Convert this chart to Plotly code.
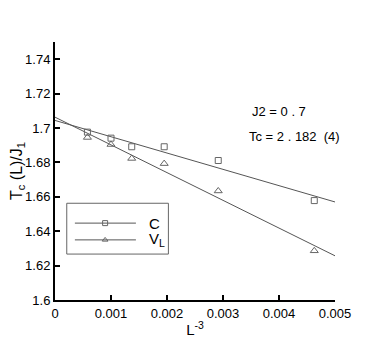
import plotly.graph_objects as go

# data
inv_L3 = [0.000579, 0.001, 0.00137, 0.00195, 0.002915, 0.00463]
tc_C = [1.6976, 1.6941, 1.6891, 1.6891, 1.6811, 1.6578]
tc_V = [1.6945, 1.6904, 1.6823, 1.6793, 1.6634, 1.6286]

fit_x = [0.0, 0.005]
fit_C = [1.7044, 1.6570]
fit_V = [1.7063, 1.6257]

x_ticks = [0, 0.001, 0.002, 0.003, 0.004, 0.005]
y_ticks = [1.6, 1.62, 1.64, 1.66, 1.68, 1.7, 1.72, 1.74]

series_names = ['C', 'V<sub>L</sub>']
series_symbols = ['square-open', 'triangle-up-open']

line_col = '#555555'
mark_col = '#666666'

fig = go.Figure()

# fitted lines
for fy in (fit_C, fit_V):
    fig.add_trace(go.Scatter(x=fit_x, y=fy, mode='lines',
                             line=dict(color=line_col, width=1), showlegend=False))

# data points
fig.add_trace(go.Scatter(x=inv_L3, y=tc_C, mode='markers', showlegend=False,
                         marker=dict(symbol='square-open', size=6, color=mark_col,
                                     line=dict(width=1))))
fig.add_trace(go.Scatter(x=inv_L3, y=tc_V, mode='markers', showlegend=False,
                         marker=dict(symbol='triangle-up-open', size=7, color=mark_col,
                                     line=dict(width=1))))

# hand-drawn legend box (paper coords)
fig.add_shape(type='rect', xref='paper', yref='paper', x0=0.042, x1=0.405,
              y0=0.178, y1=0.375, line=dict(color='#666666', width=1),
              fillcolor='white', layer='below')
leg_y = [0.298, 0.233]
for name, ly in zip(series_names, leg_y):
    fig.add_shape(type='line', xref='paper', yref='paper', x0=0.071, x1=0.289,
                  y0=ly, y1=ly, line=dict(color=line_col, width=1), layer='below')
    fig.add_annotation(x=0.329, y=ly, xref='paper', yref='paper', text=name,
                       showarrow=False, xanchor='left', yanchor='middle',
                       font=dict(size=15))
# legend markers on an overlay axis spanning the plot area
for sym, ly in zip(series_symbols, leg_y):
    fig.add_trace(go.Scatter(x=[0.179], y=[ly], xaxis='x2', yaxis='y2',
                             mode='markers', showlegend=False, hoverinfo='skip',
                             marker=dict(symbol=sym, size=5, color=mark_col,
                                         line=dict(width=1))))

fig.add_annotation(x=0.00348, y=1.7097, xref='x', yref='y', text='J2 = 0 . 7',
                   showarrow=False, xanchor='left', font=dict(size=13))
fig.add_annotation(x=0.00343, y=1.6951, xref='x', yref='y', text='Tc = 2 . 182  (4)',
                   showarrow=False, xanchor='left', font=dict(size=13))

# page body has an 8px margin, so the figure is shrunk to fit the window
fig.update_layout(
    width=374, height=332,
    margin=dict(l=47, r=47, t=34, b=40),
    paper_bgcolor='white', plot_bgcolor='white',
    font=dict(family='Liberation Sans, Arial, sans-serif', size=13, color='black'),
    showlegend=False,
    xaxis2=dict(overlaying='x', range=[0, 1], visible=False, fixedrange=True),
    yaxis2=dict(overlaying='y', range=[0, 1], visible=False, fixedrange=True),
)
fig.layout.xaxis.update(range=[0, 0.005], tickvals=x_ticks,
                        ticktext=['0', '0.001', '0.002', '0.003', '0.004', '0.005'],
                        ticks='inside', ticklen=5, tickwidth=1.5, tickcolor='black',
                        showline=True, linecolor='black', linewidth=2,
                        showgrid=False, zeroline=False, automargin=False,
                        title=dict(text='L<sup>-3</sup>', font=dict(size=15), standoff=5))
fig.layout.yaxis.update(range=[1.6, 1.75], tickvals=y_ticks,
                        ticktext=['1.6', '1.62', '1.64', '1.66', '1.68', '1.7', '1.72', '1.74'],
                        ticks='inside', ticklen=5, tickwidth=1.5, tickcolor='black',
                        showline=True, linecolor='black', linewidth=2,
                        showgrid=False, zeroline=False, automargin=False,
                        title=dict(text='T<sub>c</sub> (L)/J<sub>1</sub>', font=dict(size=16), standoff=9))

fig.write_html('out.html')
